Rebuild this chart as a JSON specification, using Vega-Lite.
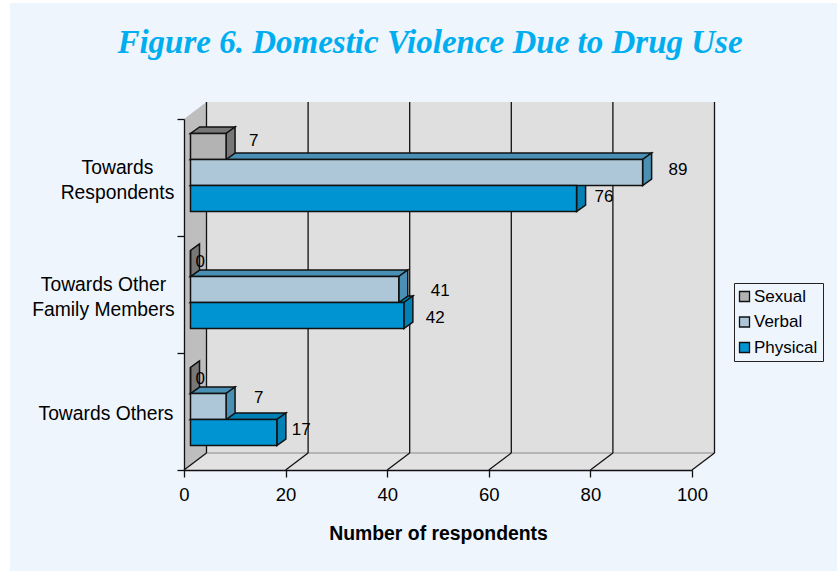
{
  "$schema": "https://vega.github.io/schema/vega-lite/v6.json",
  "width": 508,
  "height": 351,
  "autosize": "none",
  "padding": {"left": 184, "top": 119, "right": 145, "bottom": 101},
  "background": "#FFFFFF",
  "title": {
    "text": "Figure 6. Domestic Violence Due to Drug Use",
    "font": "Liberation Serif",
    "fontSize": 33,
    "fontWeight": "bold",
    "fontStyle": "italic",
    "color": "#00AEEF",
    "anchor": "middle",
    "frame": "group",
    "baseline": "alphabetic",
    "dx": -8,
    "offset": -83,
    "zindex": 1
  },
  "config": {
    "font": "Liberation Sans",
    "view": {"stroke": null}
  },
  "datasets": {
    "responses": [
      {"target": "Towards Respondents", "type": "Sexual", "count": 7},
      {"target": "Towards Respondents", "type": "Verbal", "count": 89},
      {"target": "Towards Respondents", "type": "Physical", "count": 76},
      {"target": "Towards Other Family Members", "type": "Sexual", "count": 0},
      {"target": "Towards Other Family Members", "type": "Verbal", "count": 41},
      {"target": "Towards Other Family Members", "type": "Physical", "count": 42},
      {"target": "Towards Others", "type": "Sexual", "count": 0},
      {"target": "Towards Others", "type": "Verbal", "count": 7},
      {"target": "Towards Others", "type": "Physical", "count": 17}
    ],
    "gridTicks": [
      {"tick": 0, "top": 0, "bottom": 3},
      {"tick": 20, "top": 0, "bottom": 3},
      {"tick": 40, "top": 0, "bottom": 3},
      {"tick": 60, "top": 0, "bottom": 3},
      {"tick": 80, "top": 0, "bottom": 3},
      {"tick": 100, "top": 0, "bottom": 3}
    ],
    "frame": [{"start": 0, "end": 100, "top": 0, "bottom": 3}]
  },
  "layer": [
    {
      "description": "Page panel behind the chart",
      "data": {"name": "frame"},
      "mark": {"type": "rect", "fill": "#EEF5FD", "xOffset": -174, "x2Offset": 145, "yOffset": -116, "y2Offset": 101},
      "encoding": {
        "x": {
          "field": "start",
          "type": "quantitative",
          "scale": {"domain": [0, 100], "nice": false},
          "axis": {
            "values": [0, 20, 40, 60, 80, 100],
            "grid": false,
            "title": "Number of respondents",
            "titleFontSize": 19.4,
            "titleFontWeight": "bold",
            "titleColor": "#000000",
            "titlePadding": 21,
            "labelFontSize": 18.5,
            "labelColor": "#000000",
            "labelPadding": 8,
            "labelFlush": false,
            "tickColor": "#111111",
            "tickSize": 7,
            "tickWidth": 1.3,
            "domainColor": "#111111",
            "domainWidth": 1.3,
            "zindex": 1
          }
        },
        "x2": {"field": "end"},
        "y": {
          "field": "top",
          "type": "quantitative",
          "scale": {"domain": [0, 3], "reverse": true, "nice": false, "zero": false},
          "axis": {
            "values": [0, 0.5, 1, 1.5, 2, 2.5, 3],
            "grid": false,
            "title": null,
            "labelExpr": "datum.value === 0.5 ? ['Towards', 'Respondents'] : datum.value === 1.5 ? ['Towards Other', 'Family Members'] : datum.value === 2.5 ? 'Towards Others' : ''",
            "labelFontSize": 19.3,
            "labelColor": "#000000",
            "labelAlign": "center",
            "labelBaseline": "middle",
            "labelLineHeight": 25,
            "labelPadding": 0,
            "labelOffset": 2,
            "labelOverlap": false,
            "labelBound": false,
            "labelFlush": false,
            "tickColor": "#111111",
            "tickSize": 7,
            "tickWidth": 1.3,
            "tickOpacity": {"condition": {"test": "datum.value % 1 !== 0", "value": 0}, "value": 1},
            "domainColor": "#111111",
            "domainWidth": 1.3,
            "zindex": 1,
            "encoding": {
              "labels": {
                "dx": {
                  "condition": [
                    {"test": "datum.value < 1", "value": -60},
                    {"test": "datum.value < 2", "value": -74}
                  ],
                  "value": -71.5
                },
                "dy": {
                  "condition": {"test": "datum.value < 2", "value": -12.5},
                  "value": 0
                }
              }
            }
          }
        },
        "y2": {"field": "bottom"}
      }
    },
    {
      "description": "Back wall",
      "data": {"name": "frame"},
      "mark": {"type": "rect", "fill": "#DFDFDF", "xOffset": 22.5, "x2Offset": 22.5, "yOffset": -17, "y2Offset": -17},
      "encoding": {
        "x": {"field": "start", "type": "quantitative"},
        "x2": {"field": "end"},
        "y": {"field": "top", "type": "quantitative"},
        "y2": {"field": "bottom"}
      }
    },
    {
      "description": "Left side wall, from the front plane to the back plane",
      "data": {"name": "frame"},
      "transform": [
        {"calculate": "[0, 1]", "as": "depth"},
        {"flatten": ["depth"]},
        {"calculate": "datum.depth * 22.5 / 5.08", "as": "wallX"},
        {"calculate": "-datum.depth * 17 / 117", "as": "wallTop"},
        {"calculate": "3 - datum.depth * 17 / 117", "as": "wallBottom"}
      ],
      "mark": {"type": "area", "orient": "vertical", "fill": "#BEBEBE"},
      "encoding": {
        "x": {"field": "wallX", "type": "quantitative"},
        "y": {"field": "wallTop", "type": "quantitative"},
        "y2": {"field": "wallBottom"}
      }
    },
    {
      "description": "Floor",
      "data": {"name": "frame"},
      "transform": [
        {"calculate": "[0, 1]", "as": "depth"},
        {"flatten": ["depth"]},
        {"calculate": "datum.depth * 22.5 / 5.08", "as": "floorStart"},
        {"calculate": "100 + datum.depth * 22.5 / 5.08", "as": "floorEnd"},
        {"calculate": "3 - datum.depth * 17 / 117", "as": "floorY"}
      ],
      "mark": {"type": "area", "orient": "horizontal", "fill": "#E2E2E2"},
      "encoding": {
        "x": {"field": "floorStart", "type": "quantitative"},
        "x2": {"field": "floorEnd"},
        "y": {"field": "floorY", "type": "quantitative"}
      }
    },
    {
      "description": "Back edge of the floor",
      "data": {"name": "frame"},
      "mark": {"type": "rule", "stroke": "#A6A6A6", "strokeWidth": 1.5, "xOffset": 22.5, "x2Offset": 22.5, "yOffset": -17},
      "encoding": {
        "x": {"field": "start", "type": "quantitative"},
        "x2": {"field": "end"},
        "y": {"field": "bottom", "type": "quantitative"}
      }
    },
    {
      "description": "Gridlines on the back wall",
      "data": {"name": "gridTicks"},
      "mark": {"type": "rule", "stroke": "#111111", "strokeWidth": 1.3, "xOffset": 22.5, "yOffset": -17, "y2Offset": -17},
      "encoding": {
        "x": {"field": "tick", "type": "quantitative"},
        "y": {"field": "top", "type": "quantitative"},
        "y2": {"field": "bottom"}
      }
    },
    {
      "description": "Gridlines running across the floor",
      "data": {"name": "gridTicks"},
      "mark": {"type": "rule", "stroke": "#111111", "strokeWidth": 1.3, "x2Offset": 22.5, "y2Offset": -17},
      "encoding": {
        "x": {"field": "tick", "type": "quantitative"},
        "x2": {"field": "tick"},
        "y": {"field": "bottom", "type": "quantitative"},
        "y2": {"field": "bottom"}
      }
    },
    {
      "description": "Top faces of the bars",
      "data": {"name": "responses"},
      "transform": [
        {"calculate": "indexof(['Towards Respondents', 'Towards Other Family Members', 'Towards Others'], datum.target)", "as": "group"},
        {"calculate": "indexof(['Sexual', 'Verbal', 'Physical'], datum.type)", "as": "slot"},
        {"calculate": "[0, 1]", "as": "depth"},
        {"flatten": ["depth"]},
        {"calculate": "(6.5 + datum.depth * 9) / 5.08", "as": "faceStart"},
        {"calculate": "datum.count + datum.faceStart", "as": "faceEnd"},
        {"calculate": "datum.group + 1 / 6 + datum.slot * 2 / 9 - (5 + datum.depth * 6.5) / 117", "as": "faceY"},
        {"calculate": "datum.target + datum.type", "as": "bar"}
      ],
      "mark": {"type": "area", "orient": "horizontal", "stroke": "#111111", "strokeWidth": 1.5},
      "encoding": {
        "x": {"field": "faceStart", "type": "quantitative"},
        "x2": {"field": "faceEnd"},
        "y": {"field": "faceY", "type": "quantitative"},
        "detail": {"field": "bar", "type": "nominal"},
        "fill": {
          "field": "type",
          "type": "nominal",
          "scale": {"domain": ["Physical", "Verbal", "Sexual"], "range": ["#0080B5", "#4A90B4", "#777777"]},
          "legend": null
        }
      }
    },
    {
      "description": "Side faces of the bars",
      "data": {"name": "responses"},
      "transform": [
        {"calculate": "indexof(['Towards Respondents', 'Towards Other Family Members', 'Towards Others'], datum.target)", "as": "group"},
        {"calculate": "indexof(['Sexual', 'Verbal', 'Physical'], datum.type)", "as": "slot"},
        {"calculate": "[0, 1]", "as": "depth"},
        {"flatten": ["depth"]},
        {"calculate": "datum.count + (6.5 + datum.depth * 9) / 5.08", "as": "faceX"},
        {"calculate": "datum.group + 1 / 6 + datum.slot * 2 / 9 - (5 + datum.depth * 6.5) / 117", "as": "faceTop"},
        {"calculate": "datum.faceTop + 2 / 9", "as": "faceBottom"},
        {"calculate": "datum.target + datum.type", "as": "bar"}
      ],
      "mark": {"type": "area", "orient": "vertical", "stroke": "#111111", "strokeWidth": 1.5},
      "encoding": {
        "x": {"field": "faceX", "type": "quantitative"},
        "y": {"field": "faceTop", "type": "quantitative"},
        "y2": {"field": "faceBottom"},
        "detail": {"field": "bar", "type": "nominal"},
        "fill": {"field": "type", "type": "nominal", "legend": null}
      }
    },
    {
      "description": "Front faces of the bars",
      "data": {"name": "responses"},
      "transform": [
        {"calculate": "indexof(['Towards Respondents', 'Towards Other Family Members', 'Towards Others'], datum.target)", "as": "group"},
        {"calculate": "indexof(['Sexual', 'Verbal', 'Physical'], datum.type)", "as": "slot"},
        {"calculate": "datum.group + 1 / 6 + datum.slot * 2 / 9", "as": "barTop"},
        {"calculate": "datum.barTop + 2 / 9", "as": "barBottom"},
        {"calculate": "0", "as": "base"}
      ],
      "mark": {"type": "rect", "stroke": "#111111", "strokeWidth": 1.5, "xOffset": 6.5, "x2Offset": 6.5, "yOffset": -5, "y2Offset": -5},
      "encoding": {
        "x": {"field": "base", "type": "quantitative"},
        "x2": {"field": "count"},
        "y": {"field": "barTop", "type": "quantitative"},
        "y2": {"field": "barBottom"},
        "color": {
          "field": "type",
          "type": "nominal",
          "scale": {"domain": ["Sexual", "Verbal", "Physical"], "range": ["#B3B3B3", "#AEC7D8", "#0095D2"]},
          "legend": {
            "title": null,
            "orient": "none",
            "legendX": 550,
            "legendY": 164,
            "zindex": 2,
            "padding": 5,
            "fillColor": "#EEF5FD",
            "strokeColor": "#222222",
            "symbolType": "square",
            "symbolSize": 100,
            "symbolOffset": -3,
            "symbolStrokeColor": "#111111",
            "symbolStrokeWidth": 1.3,
            "symbolOpacity": 1,
            "labelFontSize": 17,
            "labelColor": "#000000",
            "labelOffset": 1,
            "rowPadding": 7.5,
            "labelLimit": 200
          }
        }
      }
    },
    {
      "description": "Value labels, each nudged clear of its bar",
      "data": {"name": "responses"},
      "transform": [
        {"calculate": "indexof(['Towards Respondents', 'Towards Other Family Members', 'Towards Others'], datum.target)", "as": "group"},
        {"calculate": "indexof(['Sexual', 'Verbal', 'Physical'], datum.type)", "as": "slot"},
        {"calculate": "[[23, 26, 18], [5, 32, 22], [5, 28, 15]][datum.group][datum.slot] + 6.5", "as": "nudgeX"},
        {"calculate": "[[-7, -3.5, -2.5], [-3, 0, 1.5], [-2.5, -9.5, -4]][datum.group][datum.slot] - 4", "as": "nudgeY"},
        {"calculate": "datum.count + datum.nudgeX / 5.08", "as": "labelX"},
        {"calculate": "datum.group + 1 / 6 + datum.slot * 2 / 9 + 1 / 9 + datum.nudgeY / 117", "as": "labelY"}
      ],
      "mark": {"type": "text", "align": "left", "baseline": "middle", "fontSize": 17, "color": "#000000"},
      "encoding": {
        "x": {"field": "labelX", "type": "quantitative"},
        "y": {"field": "labelY", "type": "quantitative"},
        "text": {"field": "count", "type": "quantitative"}
      }
    }
  ]
}
